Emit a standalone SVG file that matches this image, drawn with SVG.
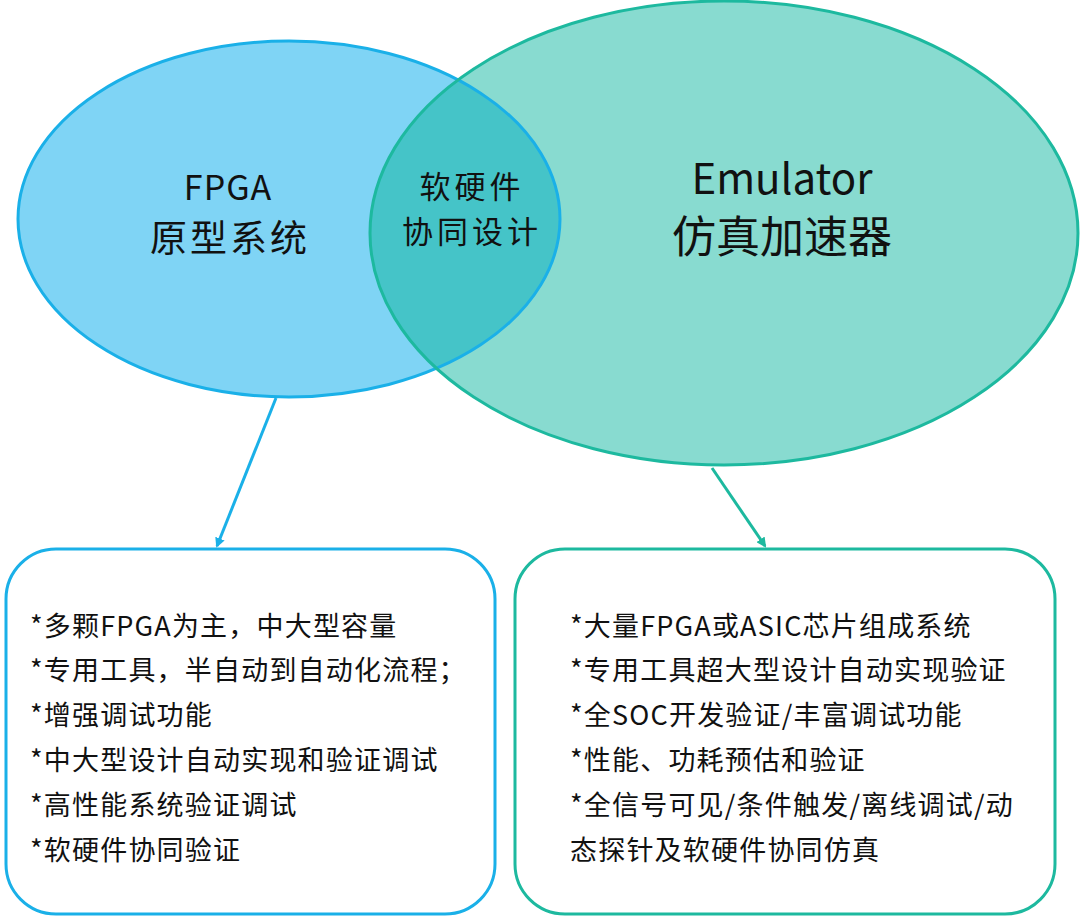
<svg xmlns="http://www.w3.org/2000/svg" width="1080" height="918" viewBox="0 0 1080 918">
<style>
text{font-family:"Noto Sans CJK SC","Noto Sans",sans-serif;fill:#111}
.c{text-anchor:middle}
.l{font-size:27px;letter-spacing:1.2px}
</style>
<defs>
<clipPath id="cl"><ellipse cx="289" cy="219" rx="271" ry="178"/></clipPath>
<marker id="ab" markerWidth="10" markerHeight="10" refX="8" refY="5" orient="auto" markerUnits="userSpaceOnUse"><path d="M0,0L10,5L0,10z" fill="#1ab0e8"/></marker>
<marker id="ag" markerWidth="10" markerHeight="10" refX="8" refY="5" orient="auto" markerUnits="userSpaceOnUse"><path d="M0,0L10,5L0,10z" fill="#1db99f"/></marker>
</defs>
<rect width="1080" height="918" fill="#fff"/>
<g id="fpga"><ellipse cx="289" cy="219" rx="271" ry="178" fill="#7fd4f5"/></g>
<g id="emu"><ellipse cx="724" cy="233" rx="354" ry="232" fill="#88dbd0"/></g>
<g id="overlap"><ellipse cx="724" cy="233" rx="354" ry="232" fill="#45c4c8" clip-path="url(#cl)"/></g>
<ellipse cx="289" cy="219" rx="271" ry="178" fill="none" stroke="#1ab0e8" stroke-width="3"/>
<ellipse cx="724" cy="233" rx="354" ry="232" fill="none" stroke="#1db99f" stroke-width="3"/>
<text class="c" x="228" y="200" font-size="34" letter-spacing="1">FPGA</text>
<text class="c" x="230" y="252" font-size="37" letter-spacing="3">原型系统</text>
<text class="c" x="472" y="198" font-size="31" letter-spacing="4">软硬件</text>
<text class="c" x="472" y="243" font-size="31" letter-spacing="4">协同设计</text>
<text class="c" x="782" y="194" font-size="42">Emulator</text>
<text class="c" x="782" y="253" font-size="44">仿真加速器</text>
<g id="connectors">
<line x1="276" y1="398" x2="217" y2="546" stroke="#1ab0e8" stroke-width="3" marker-end="url(#ab)"/>
<line x1="712" y1="468" x2="765" y2="546" stroke="#1db99f" stroke-width="3" marker-end="url(#ag)"/>
</g>
<g id="boxL"><rect x="6" y="549" width="489" height="365" rx="50" fill="#fff" stroke="#1ab0e8" stroke-width="3"/>
<text class="l" x="30" y="636">*多颗FPGA为主，中大型容量</text>
<text class="l" x="30" y="680">*专用工具，半自动到自动化流程；</text>
<text class="l" x="30" y="725">*增强调试功能</text>
<text class="l" x="30" y="770">*中大型设计自动实现和验证调试</text>
<text class="l" x="30" y="815">*高性能系统验证调试</text>
<text class="l" x="30" y="860">*软硬件协同验证</text>
</g>
<g id="boxR"><rect x="515" y="549" width="540" height="365" rx="50" fill="#fff" stroke="#1db99f" stroke-width="3"/>
<text class="l" x="570" y="636">*大量FPGA或ASIC芯片组成系统</text>
<text class="l" x="570" y="680">*专用工具超大型设计自动实现验证</text>
<text class="l" x="570" y="725">*全SOC开发验证/丰富调试功能</text>
<text class="l" x="570" y="770">*性能、功耗预估和验证</text>
<text class="l" x="570" y="815">*全信号可见/条件触发/离线调试/动</text>
<text class="l" x="570" y="860">态探针及软硬件协同仿真</text>
</g>
</svg>
